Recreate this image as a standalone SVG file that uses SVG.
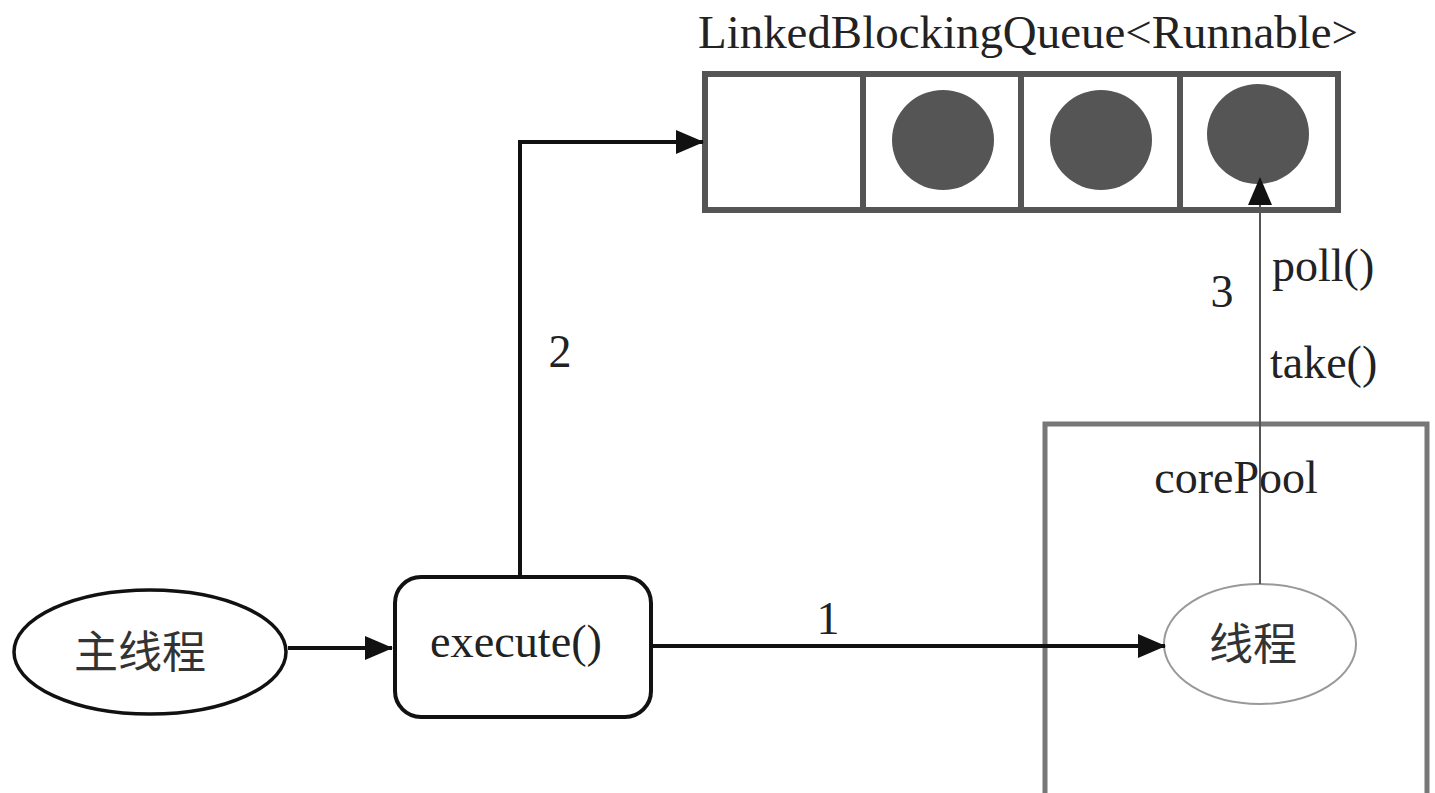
<svg xmlns="http://www.w3.org/2000/svg" width="1435" height="793" viewBox="0 0 1435 793">
<style>
text{font-family:"Liberation Serif","Noto Sans CJK SC",serif;fill:#222;font-size:46px}
.cjk{font-family:"Noto Sans CJK SC","Liberation Serif",sans-serif;font-size:44px;fill:#333}
.thick{stroke:#111;stroke-width:4;fill:none}
.thin{stroke:#555;stroke-width:2;fill:none}
</style>
<defs>
<marker id="ah" markerUnits="userSpaceOnUse" markerWidth="28" markerHeight="26" refX="27" refY="12" orient="auto" viewBox="0 0 28 24">
<path d="M0,0 L28,12 L0,24 Z" fill="#111"/>
</marker>
</defs>
<rect width="1435" height="793" fill="#fff"/>
<g id="queue">
<text x="1028" y="48" text-anchor="middle" textLength="660" lengthAdjust="spacingAndGlyphs">LinkedBlockingQueue&lt;Runnable&gt;</text>
<rect x="705" y="74" width="633" height="136" fill="#fff" stroke="#555" stroke-width="6"/>
<line x1="863" y1="74" x2="863" y2="210" stroke="#555" stroke-width="6"/>
<line x1="1021" y1="74" x2="1021" y2="210" stroke="#555" stroke-width="6"/>
<line x1="1180" y1="74" x2="1180" y2="210" stroke="#555" stroke-width="6"/>
<ellipse cx="943" cy="140" rx="51" ry="50" fill="#555"/>
<ellipse cx="1101" cy="140" rx="51" ry="50" fill="#555"/>
<ellipse cx="1258" cy="134" rx="51" ry="50" fill="#555"/>
</g>
<g id="main">
<ellipse cx="150" cy="652" rx="136" ry="62" fill="#fff" stroke="#111" stroke-width="3.5"/>
<text class="cjk" x="140" y="668" text-anchor="middle">主线程</text>
</g>
<g id="execute">
<rect x="395" y="577" width="256" height="140" rx="26" fill="#fff" stroke="#111" stroke-width="4"/>
<text x="516" y="657" text-anchor="middle" textLength="172" lengthAdjust="spacingAndGlyphs">execute()</text>
</g>
<g id="corePool">
<path d="M1045,793 V424 H1427 V793" fill="none" stroke="#777" stroke-width="5"/>
<text x="1236" y="493" text-anchor="middle">corePool</text>
</g>
<g id="thread">
<ellipse cx="1260" cy="644" rx="96" ry="60" fill="#fff" stroke="#999" stroke-width="2"/>
<text class="cjk" x="1253" y="660" text-anchor="middle">线程</text>
</g>
<g id="connectors">
<line class="thick" x1="288" y1="648" x2="392" y2="648" marker-end="url(#ah)"/>
<line class="thick" x1="652" y1="646" x2="1165" y2="646" marker-end="url(#ah)"/>
<polyline class="thick" points="520,577 520,142 703,142" marker-end="url(#ah)"/>
<line class="thin" x1="1260" y1="584" x2="1260" y2="178" marker-end="url(#ah)"/>
<text x="828" y="634" text-anchor="middle">1</text>
<text x="560" y="367" text-anchor="middle">2</text>
<text x="1222" y="307" text-anchor="middle">3</text>
<text x="1272" y="281">poll()</text>
<text x="1270" y="378">take()</text>
</g>
</svg>
